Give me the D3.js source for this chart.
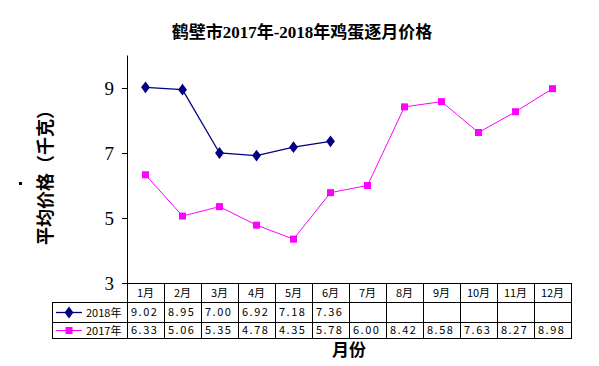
<!DOCTYPE html>
<html>
<head>
<meta charset="utf-8">
<script src="https://cdn.jsdelivr.net/npm/d3@7"></script>
<style>
  body { margin: 0; background: #fff; }
  svg { display: block; }
</style>
</head>
<body>
<div id="chart"></div>
<script>
// chart data
const months = ['1月', '2月', '3月', '4月', '5月', '6月', '7月', '8月', '9月', '10月', '11月', '12月'];
const price2018 = [9.02, 8.95, 7.00, 6.92, 7.18, 7.36];
const price2017 = [6.33, 5.06, 5.35, 4.78, 4.35, 5.78, 6.00, 8.42, 8.58, 7.63, 8.27, 8.98];
const yTicks = [3, 5, 7, 9];

const width = 599;
const height = 366;
const plotLeft = 127, plotRight = 571, plotTop = 55.5, plotBottom = 283;
const legendLeft = 52;
const rowH = [283, 302, 322, 338];

const svg = d3.select('#chart').append('svg')
    .attr('width', width)
    .attr('height', height);

const serif = '"Liberation Serif", "Noto Sans CJK SC", serif';
const cjk = '"Noto Sans CJK SC", sans-serif';

// title
svg.append('text')
    .attr('x', 302)
    .attr('y', 38)
    .attr('text-anchor', 'middle')
    .attr('font-family', serif)
    .attr('font-weight', 'bold')
    .attr('font-size', 17)
    .text('鹤壁市2017年-2018年鸡蛋逐月价格');

const x = d3.scaleBand().domain(months).range([plotLeft, plotRight]);
const y = d3.scaleLinear().domain([3, 10]).range([plotBottom, plotTop]);

// y axis
const yAxis = svg.append('g')
    .attr('transform', `translate(${plotLeft},0)`)
    .call(d3.axisLeft(y).tickValues(yTicks).tickSize(5).tickPadding(8).tickFormat(d3.format('d')));
yAxis.select('.domain').attr('d', `M0.5,${plotTop}V${rowH[3]}`).attr('stroke', '#000');
yAxis.selectAll('.tick line').attr('stroke', '#000');
yAxis.selectAll('.tick text')
    .attr('font-family', serif)
    .attr('font-size', 19)
    .attr('dy', '0.35em')
    .attr('fill', '#000');

// y label
svg.append('text')
    .attr('transform', 'translate(52,173) rotate(-90)')
    .attr('text-anchor', 'middle')
    .attr('font-family', cjk)
    .attr('font-weight', 'bold')
    .attr('font-size', 18)
    .text('平均价格（千克）');
svg.append('rect')
    .attr('x', 19).attr('y', 182).attr('width', 3).attr('height', 3)
    .attr('fill', '#000');

// series lines
const line = d3.line()
    .x((d, i) => x(months[i]) + x.bandwidth() / 2)
    .y((d) => y(d));

svg.append('path')
    .datum(price2017)
    .attr('d', line)
    .attr('fill', 'none')
    .attr('stroke', '#ff00ff')
    .attr('stroke-width', 1);

svg.selectAll('.m2017')
    .data(price2017)
    .enter()
    .append('rect')
    .attr('x', (d, i) => x(months[i]) + x.bandwidth() / 2 - 3.5)
    .attr('y', (d) => y(d) - 3.5)
    .attr('width', 7)
    .attr('height', 7)
    .attr('fill', '#ff00ff');

svg.append('path')
    .datum(price2018)
    .attr('d', line)
    .attr('fill', 'none')
    .attr('stroke', '#000080')
    .attr('stroke-width', 1.3);

const diamond = d3.symbol().type(d3.symbolDiamond).size(40);
svg.selectAll('.m2018')
    .data(price2018)
    .enter()
    .append('path')
    .attr('d', diamond)
    .attr('transform', (d, i) => `translate(${x(months[i]) + x.bandwidth() / 2},${y(d)}) scale(1.3,1)`)
    .attr('fill', '#000080');

// data table
const table = svg.append('g')
    .attr('stroke', '#000')
    .attr('stroke-width', 1)
    .attr('shape-rendering', 'crispEdges');

// horizontal lines
table.append('line').attr('x1', plotLeft).attr('x2', plotRight + 0.5).attr('y1', rowH[0] + 0.5).attr('y2', rowH[0] + 0.5);
[rowH[1], rowH[2], rowH[3]].forEach((yy) => {
    table.append('line').attr('x1', legendLeft).attr('x2', plotRight + 0.5).attr('y1', yy + 0.5).attr('y2', yy + 0.5);
});
// vertical lines
months.forEach((m) => {
    table.append('line').attr('x1', x(m) + 0.5).attr('x2', x(m) + 0.5).attr('y1', rowH[0]).attr('y2', rowH[3]);
});
table.append('line').attr('x1', plotRight + 0.5).attr('x2', plotRight + 0.5).attr('y1', rowH[0]).attr('y2', rowH[3] + 0.5);
table.append('line').attr('x1', legendLeft + 0.5).attr('x2', legendLeft + 0.5).attr('y1', rowH[1]).attr('y2', rowH[3] + 0.5);

const cellText = svg.append('g')
    .attr('font-family', cjk)
    .attr('font-size', 11)
    .attr('fill', '#000');

cellText.selectAll('.hdr')
    .data(months)
    .enter()
    .append('text')
    .attr('x', (m) => x(m) + x.bandwidth() / 2)
    .attr('y', (rowH[0] + rowH[1]) / 2 + 4)
    .attr('text-anchor', 'middle')
    .text((m) => m);

const fmt = d3.format('.2f');
function valueRow(data, rowTop, rowBot) {
    cellText.selectAll(null)
        .data(data)
        .enter()
        .append('text')
        .attr('x', (d, i) => x(months[i]) + 4)
        .attr('y', (rowTop + rowBot) / 2 + 4)
        .attr('letter-spacing', 1.5)
        .text((d) => fmt(d));
}
valueRow(price2018, rowH[1], rowH[2]);
valueRow(price2017, rowH[2], rowH[3]);

// legend keys
const keyY18 = (rowH[1] + rowH[2]) / 2 + 0.5;
const keyY17 = (rowH[2] + rowH[3]) / 2 + 0.5;
svg.append('line').attr('x1', 56).attr('x2', 82).attr('y1', keyY18).attr('y2', keyY18)
    .attr('stroke', '#000080').attr('stroke-width', 1.3);
svg.append('path').attr('d', diamond).attr('transform', `translate(69,${keyY18}) scale(1.3,1)`).attr('fill', '#000080');
svg.append('line').attr('x1', 56).attr('x2', 82).attr('y1', keyY17).attr('y2', keyY17)
    .attr('stroke', '#ff00ff').attr('stroke-width', 1);
svg.append('rect').attr('x', 65.5).attr('y', keyY17 - 3.5).attr('width', 7).attr('height', 7).attr('fill', '#ff00ff');
cellText.append('text').attr('x', 86).attr('y', keyY18 + 4).text('2018年');
cellText.append('text').attr('x', 86).attr('y', keyY17 + 4).text('2017年');

// x label
svg.append('text')
    .attr('x', 349)
    .attr('y', 356)
    .attr('text-anchor', 'middle')
    .attr('font-family', cjk)
    .attr('font-weight', 'bold')
    .attr('font-size', 17)
    .text('月份');
</script>
</body>
</html>
